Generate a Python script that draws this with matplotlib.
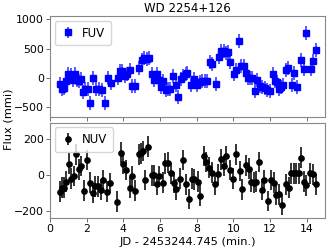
import matplotlib
matplotlib.use("Agg")
import matplotlib.pyplot as plt

fuv_t = [0.55,0.66,0.77,0.87,0.98,1.13,1.24,1.38,1.46,1.57,1.71,1.82,1.93,2.08,2.19,2.37,2.51,2.66,2.84,3.02,
         3.19,3.33,3.73,3.84,3.95,4.08,4.21,4.35,4.50,4.64,4.88,5.01,5.14,5.28,5.41,5.56,5.68,5.83,5.94,6.07,
         6.19,6.32,6.43,6.56,6.70,6.87,7.01,7.12,7.25,7.40,7.50,7.70,7.83,8.01,8.16,8.29,8.45,8.56,8.71,8.85,
         9.03,9.20,9.33,9.47,9.62,9.73,9.84,10.02,10.13,10.31,10.42,10.56,10.67,10.78,10.89,11.04,11.17,11.29,
         11.44,11.58,11.71,11.84,11.99,12.17,12.30,12.39,12.50,12.60,12.71,12.86,12.97,13.19,13.33,13.48,
         13.70,13.84,13.99,14.21,14.35,14.50]
fuv_f = [-97,-187,-170,-57,74,57,-28,74,-28,-57,-17,-244,-187,-187,-426,0,-187,-187,-199,-426,
         0,-85,0,114,114,40,74,142,-131,-131,170,301,341,324,335,74,-40,74,-28,-153,
         -57,-210,-187,-187,40,-114,-324,-17,40,74,85,-114,-17,-114,-74,-57,-57,-57,267,244,
         -97,358,454,454,426,437,267,74,131,625,210,210,85,0,0,0,-227,-40,
         -142,-153,-170,-210,-227,74,-57,-74,-187,-153,-114,142,170,-114,85,-153,
         301,159,767,159,284,472]
fuv_e = [120]*len(fuv_f)

nuv_t = [0.55,0.66,0.77,0.87,1.02,1.17,1.31,1.42,1.57,1.71,1.86,2.04,2.19,2.33,2.48,2.62,2.77,2.91,3.10,3.28,
         3.68,3.86,4.01,4.15,4.34,4.48,4.66,4.85,4.95,5.06,5.21,5.36,5.57,5.68,5.83,5.97,6.16,6.30,6.45,6.59,
         6.74,6.89,7.07,7.25,7.40,7.58,7.76,7.87,8.05,8.20,8.42,8.52,8.67,8.82,9.00,9.14,9.33,9.47,9.62,9.84,
         9.98,10.16,10.35,10.49,10.67,10.86,10.97,11.11,11.26,11.40,11.55,11.69,11.88,12.06,12.20,12.35,12.50,
         12.68,12.86,13.01,13.15,13.30,13.44,13.59,13.70,13.84,13.99,14.17,14.32,14.50]
nuv_f = [-93,-69,-69,-37,65,-19,-4,117,33,52,-87,85,-41,-100,-63,-63,-81,-26,-93,-44,
         -148,126,63,30,-69,-4,-87,117,122,135,-26,159,0,0,-50,-7,-41,67,70,11,
         -41,-78,-19,85,-50,-133,-19,-22,-37,-115,107,74,43,15,-50,6,89,52,107,30,
         -19,117,24,-78,56,37,-37,-41,-37,74,-81,-26,-144,-26,-41,-111,-106,
         -167,-50,-69,11,11,11,11,98,-37,-56,11,6,-50]
nuv_e = [58]*len(nuv_f)

title = "WD 2254+126"
xlabel = "JD - 2453244.745 (min.)"
ylabel = "Flux (mmi)"

fig = plt.figure(figsize=(3.33, 2.49), dpi=100)
ax1 = fig.add_axes([0.150, 0.532, 0.826, 0.404])
ax2 = fig.add_axes([0.150, 0.124, 0.826, 0.384], sharex=ax1)

ax1.errorbar(fuv_t, fuv_f, yerr=fuv_e, fmt='s', color='blue', ms=3.8,
             ecolor='#5a5aff', elinewidth=1.4, capsize=0, label='FUV')
ax2.errorbar(nuv_t, nuv_f, yerr=nuv_e, fmt='o', color='black', ms=3.8,
             ecolor='#333333', elinewidth=1.4, capsize=0, label='NUV')

for ax in (ax1, ax2):
    ax.tick_params(labelsize=7.8, length=3, width=0.6, color='#555555', pad=1.2)
    for s in ax.spines.values():
        s.set_linewidth(0.8)
        s.set_edgecolor('#888888')
    ax.legend(loc='upper left', fontsize=8.5, handlelength=1.2, borderpad=0.5,
              handletextpad=0.6, borderaxespad=0.4)

ax1.set_xlim(0, 15)
ax1.set_ylim(-660, 1060)
ax1.set_yticks([-500, 0, 500, 1000])
ax2.set_ylim(-240, 295)
ax2.set_yticks([-200, 0, 200])
ax2.set_xticks([0, 2, 4, 6, 8, 10, 12, 14])
plt.setp(ax1.get_xticklabels(), visible=False)

ax1.set_title(title, fontsize=8.5, pad=3)
fig.text(0.563, 0.028, xlabel, fontsize=8.2, ha='center', va='center')
fig.text(0.025, 0.52, ylabel, rotation=90, fontsize=8.2, ha='center', va='center')

fig.savefig("out.png", dpi=100)
